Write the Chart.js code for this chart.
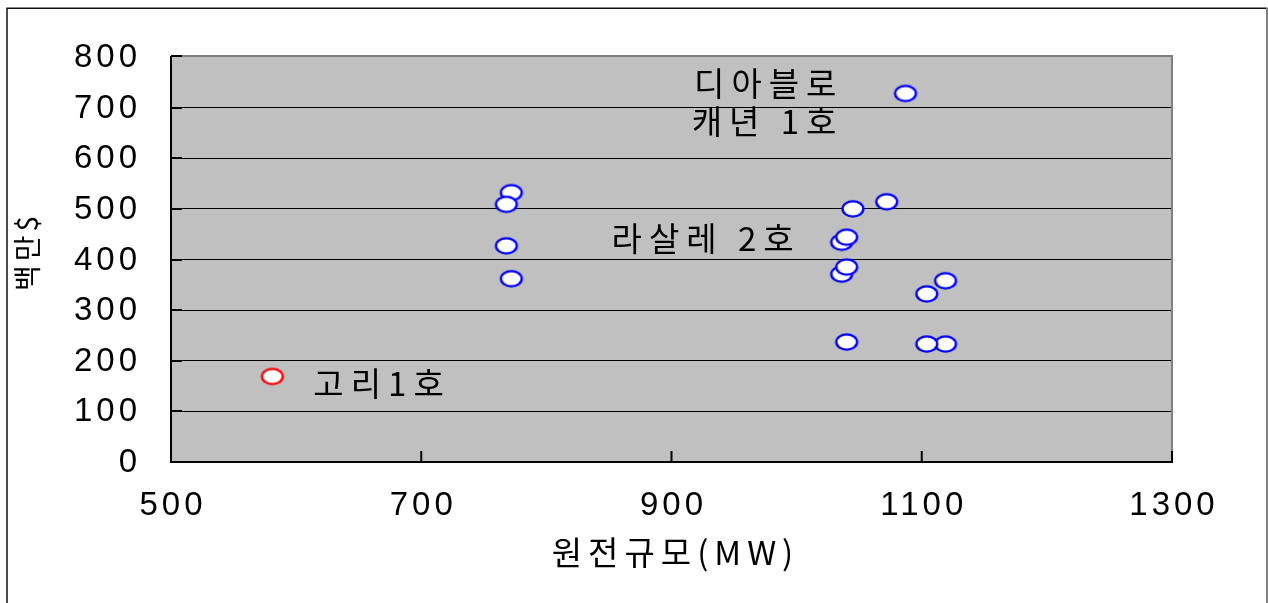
<!DOCTYPE html>
<html>
<head>
<meta charset="utf-8">
<script src="https://cdn.jsdelivr.net/npm/chart.js@4/dist/chart.umd.min.js"></script>
<style>
  html, body { margin: 0; padding: 0; background: #fff; }
  #wrap { width: 1268px; height: 603px; position: relative; }
</style>
</head>
<body>
<div id="wrap"><canvas id="c" width="1268" height="603"></canvas></div>
<script>
// Overseas plants: capacity (MW) and construction cost (million $)
const plantMW   = [772, 768, 768, 772, 1087, 1072, 1045, 1036, 1040, 1036, 1040, 1040, 1119, 1104, 1119, 1104];
const plantCost = [532, 509, 427, 362, 728, 514, 500, 434, 444, 371, 385, 237, 358, 332, 233, 233];

// Kori unit 1
const koriMW   = [581];
const koriCost = [169];

// Axis ranges and ticks
const xTicks = [500, 700, 900, 1100, 1300];
const yTicks = [0, 100, 200, 300, 400, 500, 600, 700, 800];

// Text notes, each attached to the plant it names
const noteTexts   = ['디아블로', '캐년 1호', '라살레 2호', '고리1호'];
const noteDataset = [0, 0, 0, 1];
const noteIndex   = [4, 4, 7, 0];

const xTitle = '원전규모(MW)';
const yTitle = '백만$';

// ---- drawing helpers ----
const NOTE_FONT = '33px "Noto Sans CJK KR", "Noto Sans", sans-serif';
const NOTE_SPACING = 7;
// offset of the visible text edge from its point, and the side it sits on
const noteOffsets = [
  { dx: -69, dy: -10, align: 'right' },
  { dx: -69, dy: 28,  align: 'right' },
  { dx: -48, dy: -4,  align: 'right' },
  { dx: 41,  dy: 7,   align: 'left'  }
];

function ellipseSprite(color) {
  const c = document.createElement('canvas');
  c.width = 26; c.height = 20;
  const g = c.getContext('2d');
  g.beginPath();
  g.ellipse(13, 10, 10.4, 7.6, 0, 0, Math.PI * 2);
  g.fillStyle = '#ffffff';
  g.fill();
  g.lineWidth = 2.4;
  g.strokeStyle = color;
  g.stroke();
  return c;
}

// Linear scale whose labels and title are drawn with extra letter spacing
const spacing = {
  x: { ticks: 4, title: 6, tickShift: [2, 0], titleShift: [4, 0] },
  y: { ticks: 4, title: 4, tickShift: [0, 1], titleShift: [0, -8] }
};
class SpacedLinearScale extends Chart.LinearScale {
  drawTitle() {
    const ctx = this.ctx;
    const s = spacing[this.id];
    ctx.save();
    if (s) {
      ctx.letterSpacing = s.title + 'px';
      ctx.translate(s.titleShift[0], s.titleShift[1]);
    }
    super.drawTitle();
    ctx.restore();
  }
  drawLabels(area) {
    const ctx = this.ctx;
    const s = spacing[this.id];
    ctx.save();
    if (s) {
      ctx.letterSpacing = s.ticks + 'px';
      ctx.translate(s.tickShift[0], s.tickShift[1]);
    }
    super.drawLabels(area);
    ctx.restore();
  }
}
SpacedLinearScale.id = 'spacedLinear';
SpacedLinearScale.defaults = Chart.LinearScale.defaults;
Chart.register(SpacedLinearScale);

const framePlugin = {
  id: 'frame',
  beforeDraw(chart) {
    const ctx = chart.ctx;
    const a = chart.chartArea;
    ctx.save();
    ctx.fillStyle = '#ffffff';
    ctx.fillRect(0, 0, chart.width, chart.height);
    // outer frame
    ctx.strokeStyle = '#111111';
    ctx.lineWidth = 1.5;
    ctx.beginPath();
    ctx.moveTo(7, chart.height);
    ctx.lineTo(7, 8.3);
    ctx.lineTo(1267, 8.3);
    ctx.stroke();
    ctx.strokeStyle = '#808080';
    ctx.lineWidth = 2;
    ctx.beginPath();
    ctx.moveTo(1267, 8);
    ctx.lineTo(1267, chart.height);
    ctx.stroke();
    // plot background
    ctx.fillStyle = '#c0c0c0';
    ctx.fillRect(a.left, a.top - 2, a.right - a.left, a.bottom - a.top + 2);
    ctx.restore();
  },
  beforeDatasetsDraw(chart) {
    const ctx = chart.ctx;
    const a = chart.chartArea;
    const xs = chart.scales.x, ys = chart.scales.y;
    ctx.save();
    // grey top and right edges of the plot
    ctx.strokeStyle = '#808080';
    ctx.lineWidth = 2;
    ctx.beginPath();
    ctx.moveTo(a.left, a.top - 1);
    ctx.lineTo(a.right, a.top - 1);
    ctx.lineTo(a.right, a.bottom);
    ctx.stroke();
    // inward tick marks
    ctx.strokeStyle = '#000000';
    ctx.lineWidth = 2;
    ctx.beginPath();
    yTicks.forEach(v => {
      const py = Math.round(ys.getPixelForValue(v)) - (v === 800 ? 1 : 0);
      ctx.moveTo(a.left, py);
      ctx.lineTo(a.left + 11, py);
    });
    xTicks.forEach(v => {
      const px = xs.getPixelForValue(v);
      ctx.moveTo(px, a.bottom);
      ctx.lineTo(px, a.bottom - 11);
    });
    ctx.stroke();
    ctx.restore();
  },
  afterDatasetsDraw(chart) {
    const ctx = chart.ctx;
    ctx.save();
    ctx.font = NOTE_FONT;
    ctx.letterSpacing = NOTE_SPACING + 'px';
    ctx.fillStyle = '#000000';
    ctx.textBaseline = 'middle';
    noteTexts.forEach((t, i) => {
      const el = chart.getDatasetMeta(noteDataset[i]).data[noteIndex[i]];
      const o = noteOffsets[i];
      ctx.textAlign = o.align;
      const x = el.x + o.dx + (o.align === 'right' ? NOTE_SPACING : 0);
      ctx.fillText(t, x, el.y + o.dy);
    });
    ctx.restore();
  }
};

const toXY = (xs, ys) => xs.map((x, i) => ({ x: x, y: ys[i] }));

new Chart(document.getElementById('c'), {
  type: 'scatter',
  data: {
    datasets: [
      {
        label: '해외 원전',
        data: toXY(plantMW, plantCost),
        pointStyle: ellipseSprite('#0000ff'),
        pointRadius: 10,
        pointHoverRadius: 10
      },
      {
        label: '고리1호',
        data: toXY(koriMW, koriCost),
        pointStyle: ellipseSprite('#ff0000'),
        pointRadius: 10,
        pointHoverRadius: 10
      }
    ]
  },
  options: {
    responsive: false,
    animation: false,
    events: [],
    layout: { padding: { top: 57, right: 96, left: 0, bottom: 0 } },
    plugins: {
      legend: { display: false },
      tooltip: { enabled: false }
    },
    scales: {
      x: {
        type: 'spacedLinear',
        position: 'bottom',
        min: 500, max: 1300,
        afterBuildTicks: s => { s.ticks = xTicks.map(v => ({ value: v })); },
        afterFit: s => { s.height = 141; },
        grid: { display: false, drawTicks: false },
        border: { display: true, color: '#000000', width: 2 },
        ticks: {
          autoSkip: false, maxRotation: 0, padding: 24,
          color: '#000000',
          font: { family: '"Liberation Sans", Arial, sans-serif', size: 33 },
          callback: v => String(v)
        },
        title: {
          display: true, text: xTitle, color: '#000000',
          font: { family: '"Noto Sans CJK KR", sans-serif', size: 33 },
          padding: { top: 0, bottom: 31 }
        }
      },
      y: {
        type: 'spacedLinear',
        position: 'left',
        min: 0, max: 800,
        afterBuildTicks: s => { s.ticks = yTicks.map(v => ({ value: v })); },
        afterFit: s => { s.width = 171; },
        grid: {
          drawTicks: false,
          lineWidth: 1,
          color: c => (c.tick && c.tick.value === 800) ? 'rgba(0,0,0,0)' : '#000000'
        },
        border: { display: true, color: '#000000', width: 2 },
        ticks: {
          autoSkip: false, padding: 30,
          color: '#000000',
          font: { family: '"Liberation Sans", Arial, sans-serif', size: 33 },
          callback: v => String(v)
        },
        title: {
          display: true, text: yTitle, color: '#000000',
          font: { family: '"Noto Sans CJK KR", sans-serif', size: 28 },
          padding: { top: 11, bottom: 0 }
        }
      }
    }
  },
  plugins: [framePlugin]
});
</script>
</body>
</html>
